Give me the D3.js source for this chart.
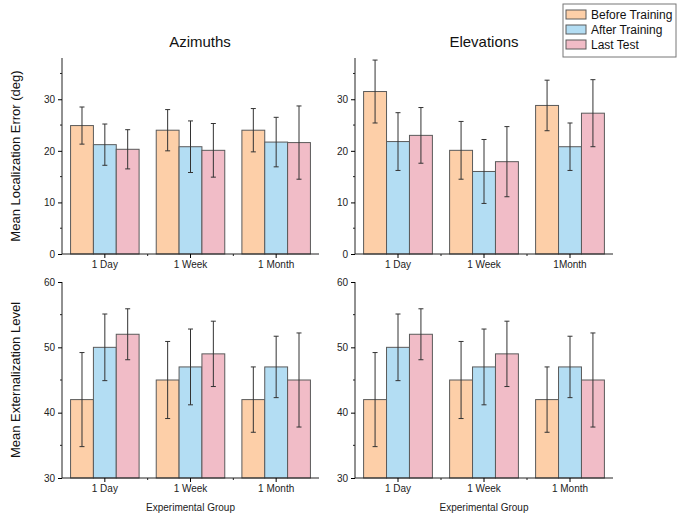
<!DOCTYPE html>
<html>
<head>
<meta charset="utf-8">
<script src="https://cdn.jsdelivr.net/npm/d3@7"></script>
<style>
  body { margin: 0; background: #fff; }
  svg { font-family: "Liberation Sans", Arial, sans-serif; }
</style>
</head>
<body>
<svg width="683" height="519"></svg>
<script>
let width = 683, height = 519;

// categories and series
const groups = ["1 Day", "1 Week", "1 Month"];
const groupLabelsElevTop = ["1 Day", "1 Week", "1Month"];
const series = ["Before Training", "After Training", "Last Test"];
const colors = ["#fdcfa8", "#b3ddf3", "#f1bcc7"];

// Localization error (deg): [before, after, last] per group
const aziMean = [[24.9, 21.2, 20.3], [24.0, 20.8, 20.1], [24.0, 21.7, 21.6]];
const aziErr  = [[3.6, 4.0, 3.8], [4.0, 5.0, 5.2], [4.2, 4.8, 7.1]];
const eleMean = [[31.5, 21.8, 23.0], [20.1, 16.0, 17.9], [28.8, 20.8, 27.3]];
const eleErr  = [[6.1, 5.6, 5.4], [5.6, 6.2, 6.8], [4.9, 4.6, 6.5]];

// Externalization level
const extMean = [[42, 50, 52], [45, 47, 49], [42, 47, 45]];
const extErr  = [[7.2, 5.1, 3.9], [5.9, 5.8, 5.0], [5.0, 4.7, 7.2]];

const errTicks = [0, 10, 20, 30];
const extTicks = [30, 40, 50, 60];

let svg = d3.select("svg");

function drawPanel(opt) {
  let g = svg.append("g");
  let x0 = d3.scaleBand().domain(groups).range([opt.left, opt.right])
      .paddingInner(0.2).paddingOuter(0.1);
  let x1 = d3.scaleBand().domain(series).range([0, x0.bandwidth()]);
  let y = d3.scaleLinear().domain(opt.domain).range([opt.bottom, opt.top]);

  let rows = [];
  groups.forEach((gr, i) => {
    series.forEach((s, j) => {
      rows.push({g: gr, s: s, j: j, v: opt.mean[i][j], e: opt.err[i][j]});
    });
  });

  // bars
  g.selectAll("rect.bar").data(rows).enter().append("rect")
    .attr("class", "bar")
    .attr("x", d => x0(d.g) + x1(d.s))
    .attr("y", d => y(d.v))
    .attr("width", x1.bandwidth())
    .attr("height", d => y(opt.domain[0]) - y(d.v))
    .attr("fill", d => colors[d.j])
    .attr("stroke", "#5a5a5a")
    .attr("stroke-width", 1);

  // error bars
  let eb = g.selectAll("g.err").data(rows).enter().append("g")
    .attr("stroke", "#333").attr("stroke-width", 1);
  let cx = d => x0(d.g) + x1(d.s) + x1.bandwidth() / 2;
  eb.append("line")
    .attr("x1", cx).attr("x2", cx)
    .attr("y1", d => y(d.v - d.e)).attr("y2", d => y(d.v + d.e));
  eb.append("line")
    .attr("x1", d => cx(d) - 2.5).attr("x2", d => cx(d) + 2.5)
    .attr("y1", d => y(d.v + d.e)).attr("y2", d => y(d.v + d.e));
  eb.append("line")
    .attr("x1", d => cx(d) - 2.5).attr("x2", d => cx(d) + 2.5)
    .attr("y1", d => y(d.v - d.e)).attr("y2", d => y(d.v - d.e));

  // y axis
  let yAxis = g.append("g")
    .attr("transform", "translate(" + opt.left + ",0)")
    .call(d3.axisLeft(y).tickValues(opt.ticks).tickSize(4).tickPadding(3).tickSizeOuter(0));
  yAxis.selectAll("text").style("font-size", "10px").attr("fill", "#222");
  yAxis.select(".domain").attr("stroke", "#222");
  let minors = d3.range(opt.domain[0] + 5, opt.domain[1], 10);
  yAxis.selectAll("line.minor").data(minors).enter().append("line")
    .attr("class", "minor")
    .attr("x1", -2).attr("x2", 0)
    .attr("y1", d => y(d)).attr("y2", d => y(d))
    .attr("stroke", "#222");
  yAxis.select(".domain").attr("d", "M0," + y(opt.domain[0]) + "V" + y(opt.domain[1]));

  // x axis
  let xAxis = g.append("g")
    .attr("transform", "translate(0," + opt.bottom + ")")
    .call(d3.axisBottom(x0).tickSize(4).tickPadding(3).tickSizeOuter(0)
      .tickFormat((d, i) => opt.xLabels[i]));
  xAxis.selectAll("text").style("font-size", "10px").attr("fill", "#222");
  xAxis.select(".domain").attr("stroke", "#222")
    .attr("d", "M" + opt.left + ",0H" + opt.right);
  let bounds = [x0.step() * 1, x0.step() * 2].map(s => opt.left + s);
  xAxis.selectAll("line.minor").data(bounds).enter().append("line")
    .attr("class", "minor")
    .attr("x1", d => d).attr("x2", d => d)
    .attr("y1", 0).attr("y2", 2)
    .attr("stroke", "#222");

  if (opt.title) {
    svg.append("text").attr("x", opt.titleX).attr("y", 47)
      .attr("text-anchor", "middle").style("font-size", "15px").attr("fill", "#111")
      .text(opt.title);
  }
  if (opt.xTitle) {
    svg.append("text").attr("x", (opt.left + opt.right) / 2).attr("y", 511)
      .attr("text-anchor", "middle").style("font-size", "10px").attr("fill", "#222")
      .text(opt.xTitle);
  }
}

drawPanel({left: 62, right: 319, top: 58, bottom: 254, domain: [0, 38], ticks: errTicks,
  mean: aziMean, err: aziErr, xLabels: groups, title: "Azimuths", titleX: 200});
drawPanel({left: 355, right: 613, top: 58, bottom: 254, domain: [0, 38], ticks: errTicks,
  mean: eleMean, err: eleErr, xLabels: groupLabelsElevTop, title: "Elevations", titleX: 484});
drawPanel({left: 62, right: 319, top: 282, bottom: 478, domain: [30, 60], ticks: extTicks,
  mean: extMean, err: extErr, xLabels: groups, xTitle: "Experimental Group"});
drawPanel({left: 355, right: 613, top: 282, bottom: 478, domain: [30, 60], ticks: extTicks,
  mean: extMean, err: extErr, xLabels: groups, xTitle: "Experimental Group"});

// y axis titles
svg.append("text")
  .attr("transform", "translate(20,156) rotate(-90)")
  .attr("text-anchor", "middle").style("font-size", "13px").attr("fill", "#111")
  .text("Mean Localization Error (deg)");
svg.append("text")
  .attr("transform", "translate(20,380) rotate(-90)")
  .attr("text-anchor", "middle").style("font-size", "13px").attr("fill", "#111")
  .text("Mean Externalization Level");

// legend
let legend = svg.append("g").attr("transform", "translate(563,4)");
legend.append("rect").attr("width", 113).attr("height", 53)
  .attr("fill", "#fff").attr("stroke", "#777");
let items = legend.selectAll("g.item").data(series).enter().append("g")
  .attr("transform", (d, i) => "translate(3," + (6 + i * 15) + ")");
items.append("rect").attr("width", 20).attr("height", 9)
  .attr("fill", (d, i) => colors[i]).attr("stroke", "#5a5a5a");
items.append("text").attr("x", 25).attr("y", 9)
  .style("font-size", "12px").attr("fill", "#111")
  .text(d => d);
</script>
</body>
</html>
